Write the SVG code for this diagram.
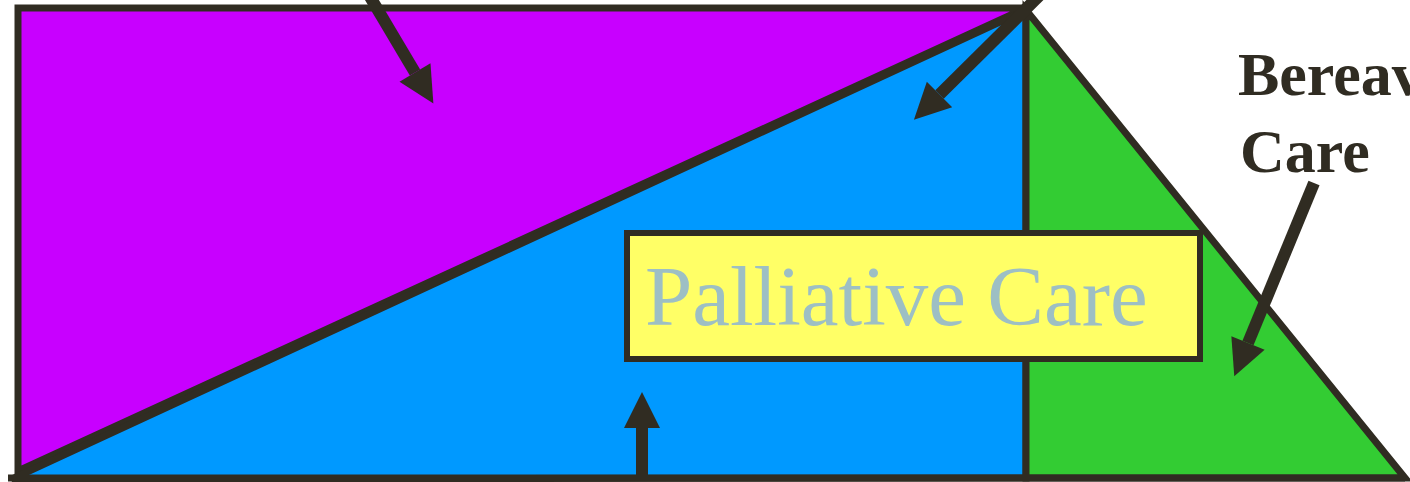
<svg xmlns="http://www.w3.org/2000/svg" width="1410" height="482" viewBox="0 0 1410 482">
<style>
.edge{stroke:#302c22;stroke-width:7;stroke-linejoin:miter}
.shaft{stroke:#302c22;stroke-width:12;fill:none}
.label{font-family:"Liberation Serif","Times New Roman",serif;font-weight:bold;font-size:62px;fill:#302c22}
.pc{font-family:"Liberation Serif","Times New Roman",serif;font-size:85px;fill:#9dbfc4}
</style>
<defs>
<marker id="head" markerUnits="userSpaceOnUse" markerWidth="36" markerHeight="36" viewBox="0 0 36 36" refX="0" refY="18" orient="auto" overflow="visible">
<path d="M0,0 L36,18 L0,36 Z" fill="#302c22"/>
</marker>
</defs>
<rect width="1410" height="482" fill="#ffffff"/>
<g id="purple-region">
<polygon class="edge" points="18,8 1026,8 18,471" fill="#c800ff"/>
</g>
<g id="blue-region">
<polygon class="edge" points="12,479 1026,10 1026,478" fill="#0099ff"/>
</g>
<g id="green-region">
<polygon class="edge" points="1026,10 1405,478 1026,478" fill="#33cc33"/>
</g>
<g id="bottom-line">
<line x1="8" y1="478" x2="1405" y2="478" stroke="#302c22" stroke-width="7"/>
</g>
<g id="palliative-care">
<rect x="627" y="233" width="573" height="126" fill="#ffff66" stroke="#302c22" stroke-width="6"/>
<text class="pc" x="645" y="325">Palliative Care</text>
</g>
<g id="bereavement-care">
<text class="label" x="1238" y="95">Bereavement</text>
<text class="label" x="1240" y="172">Care</text>
</g>
<g id="connectors">
<line class="shaft" x1="366" y1="-10" x2="415" y2="72.5" marker-end="url(#head)"/>
<line class="shaft" x1="1045" y1="-10" x2="939.5" y2="94.5" marker-end="url(#head)"/>
<line class="shaft" x1="1314" y1="183" x2="1248" y2="343" marker-end="url(#head)"/>
<line class="shaft" x1="642" y1="477" x2="642" y2="428" marker-end="url(#head)"/>
</g>
</svg>
